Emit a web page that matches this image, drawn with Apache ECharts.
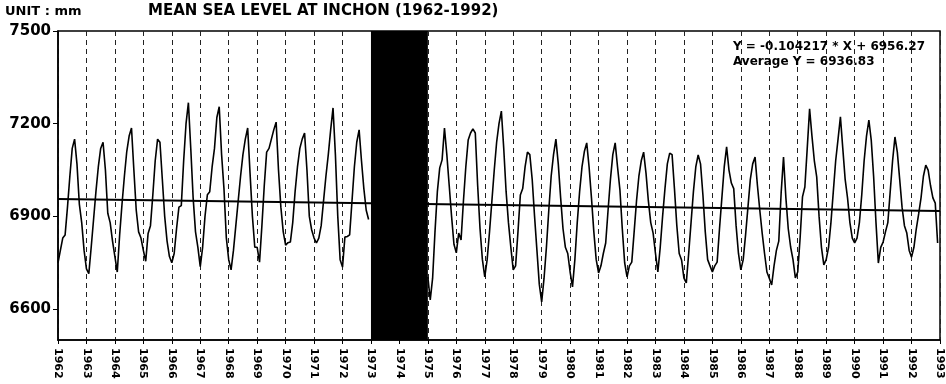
<!DOCTYPE html>
<html style="height: 100%">
    <head>
        <meta charset="utf-8">
        <script src="https://cdn.jsdelivr.net/npm/echarts@6/dist/echarts.min.js"></script>
    </head>
    <body style="height: 100%; margin: 0; background-color: #fff">
        <div id="container" style="width: 946px; height: 384px"></div>
        <script type="text/javascript">
        // monthly mean sea level (mm), one row per year, Jan..Dec
        var firstRunStartYear = 1962;
        var firstRunLevels = [
            [6750, 6790, 6830, 6840, 6930, 7030, 7120, 7150, 7070, 6940, 6880, 6790],
            [6730, 6715, 6800, 6890, 6980, 7060, 7120, 7140, 7050, 6910, 6880, 6820],
            [6770, 6720, 6840, 6940, 7030, 7110, 7160, 7186, 7050, 6920, 6850, 6830],
            [6790, 6755, 6845, 6870, 6970, 7080, 7150, 7140, 7020, 6900, 6820, 6770],
            [6750, 6780, 6860, 6930, 6935, 7080, 7200, 7268, 7120, 6960, 6850, 6800],
            [6737, 6800, 6900, 6970, 6980, 7060, 7120, 7220, 7255, 7100, 6990, 6830],
            [6760, 6727, 6790, 6870, 6950, 7030, 7100, 7150, 7186, 7040, 6900, 6800],
            [6800, 6752, 6870, 7000, 7108, 7120, 7150, 7180, 7205, 7050, 6930, 6850],
            [6807, 6815, 6817, 6880, 6980, 7060, 7120, 7150, 7170, 7050, 6900, 6856],
            [6830, 6814, 6830, 6870, 6950, 7030, 7100, 7180, 7251, 7100, 6900, 6760],
            [6736, 6833, 6835, 6840, 6950, 7060, 7140, 7180, 7080, 6990, 6920, 6890]
        ];
        var secondRunStartYear = 1975;
        var secondRunLevels = [
            [6704, 6630, 6700, 6850, 6980, 7057, 7083, 7186, 7100, 7000, 6900, 6810],
            [6782, 6846, 6824, 6950, 7060, 7147, 7170, 7183, 7170, 7000, 6860, 6760],
            [6704, 6760, 6850, 6950, 7050, 7140, 7200, 7241, 7120, 6980, 6879, 6800],
            [6727, 6740, 6850, 6969, 6990, 7060, 7108, 7100, 7020, 6900, 6790, 6680],
            [6623, 6700, 6800, 6920, 7030, 7100, 7150, 7070, 6960, 6860, 6800, 6780],
            [6720, 6672, 6760, 6880, 6980, 7060, 7110, 7138, 7060, 6960, 6850, 6760],
            [6717, 6740, 6780, 6814, 6920, 7020, 7100, 7138, 7060, 6986, 6860, 6750],
            [6704, 6740, 6752, 6850, 6950, 7030, 7080, 7108, 7040, 6950, 6880, 6846],
            [6780, 6720, 6800, 6900, 6990, 7070, 7105, 7100, 6990, 6870, 6780, 6759],
            [6700, 6685, 6780, 6880, 6980, 7060, 7099, 7070, 6970, 6850, 6760, 6740],
            [6720, 6740, 6752, 6860, 6960, 7060, 7125, 7050, 7008, 6990, 6870, 6780],
            [6727, 6760, 6840, 6930, 7020, 7070, 7092, 7000, 6920, 6846, 6780, 6720],
            [6700, 6678, 6740, 6790, 6820, 6976, 7092, 6960, 6860, 6801, 6760, 6701],
            [6720, 6830, 6963, 6995, 7120, 7248, 7160, 7080, 7028, 6900, 6800, 6743],
            [6760, 6800, 6880, 6980, 7080, 7150, 7222, 7120, 7020, 6960, 6880, 6830],
            [6814, 6830, 6880, 6970, 7080, 7160, 7212, 7147, 7030, 6880, 6749, 6800],
            [6817, 6850, 6880, 6980, 7080, 7157, 7108, 7020, 6930, 6870, 6846, 6790],
            [6768, 6800, 6860, 6908, 6960, 7030, 7066, 7050, 7000, 6960, 6943, 6814]
        ];
        var missingYears = [1973, 1975];
        var xRange = [1962, 1993];
        var yRange = [6500, 7500];
        var yTickValues = [6600, 6900, 7200, 7500];
        // regression given on the chart, X = month number from Jan 1962
        var trendSlope = -0.104217;
        var trendIntercept = 6956.27;
        var averageY = 6936.83;

        function toPoints(startYear, rows) {
            var pts = [];
            rows.forEach(function (row, i) {
                row.forEach(function (v, m) {
                    pts.push([startYear + i + m / 12, v]);
                });
            });
            return pts;
        }
        function trendAt(year) {
            var X = (year - xRange[0]) * 12 + 1;
            return trendSlope * X + trendIntercept;
        }

        var chart = echarts.init(document.getElementById('container'));
        var lineStyle = { color: '#000', width: 1.6 };
        var option = {
            animation: false,
            backgroundColor: '#fff',
            title: {
                text: 'MEAN SEA LEVEL AT INCHON (1962-1992)',
                left: 148, top: 4, padding: 0,
                textStyle: { fontFamily: 'DejaVu Sans', fontWeight: 'bold', fontSize: 15, color: '#000' }
            },
            graphic: [
                { type: 'text', left: 5, top: 5,
                  style: { text: 'UNIT : mm', font: 'bold 13px "DejaVu Sans"', fill: '#000' } },
                { type: 'text', left: 733, top: 41, z: 100,
                  style: { text: 'Y = ' + trendSlope + ' * X + ' + trendIntercept,
                           font: 'bold 12px "DejaVu Sans"', fill: '#000' } },
                { type: 'text', left: 733, top: 56, z: 100,
                  style: { text: 'Average Y = ' + averageY,
                           font: 'bold 12px "DejaVu Sans"', fill: '#000' } }
            ],
            grid: { left: 58, right: 6, top: 31, bottom: 44, show: true, borderColor: '#000', borderWidth: 1.5 },
            xAxis: {
                type: 'value', min: xRange[0], max: xRange[1], interval: 1,
                axisLine: { lineStyle: { color: '#000', width: 1.5 } },
                axisTick: { length: 4, lineStyle: { color: '#000' } },
                axisLabel: {
                    rotate: -90, margin: 8, color: '#000', fontWeight: 'bold', fontSize: 11,
                    fontFamily: 'DejaVu Sans',
                    formatter: function (v) { return String(v); }
                },
                splitLine: { show: true, lineStyle: { color: '#222', type: [5, 4], width: 1 } }
            },
            yAxis: {
                type: 'value', min: yRange[0], max: yRange[1], interval: 100,
                axisLine: { show: true, lineStyle: { color: '#000', width: 1.5 } },
                axisTick: { show: true, length: 5, customValues: yTickValues, lineStyle: { color: '#000' } },
                axisLabel: {
                    customValues: yTickValues, color: '#000', fontWeight: 'bold', fontSize: 15,
                    fontFamily: 'DejaVu Sans', margin: 7,
                    formatter: function (v) { return String(v); }
                },
                splitLine: { show: false }
            },
            series: [
                { type: 'line', data: toPoints(firstRunStartYear, firstRunLevels), showSymbol: false,
                  lineStyle: lineStyle, z: 3 },
                { type: 'line', data: toPoints(secondRunStartYear, secondRunLevels), showSymbol: false,
                  lineStyle: lineStyle, z: 3 },
                { type: 'line', data: [[xRange[0], trendAt(xRange[0])], [xRange[1], trendAt(xRange[1])]],
                  showSymbol: false, lineStyle: { color: '#000', width: 2 }, z: 4 },
                { type: 'line', data: [], z: 10,
                  markArea: {
                      silent: true,
                      itemStyle: { color: '#000', opacity: 1 },
                      data: [[{ xAxis: missingYears[0] }, { xAxis: missingYears[1] }]]
                  } }
            ]
        };
        chart.setOption(option);
        </script>
    </body>
</html>
